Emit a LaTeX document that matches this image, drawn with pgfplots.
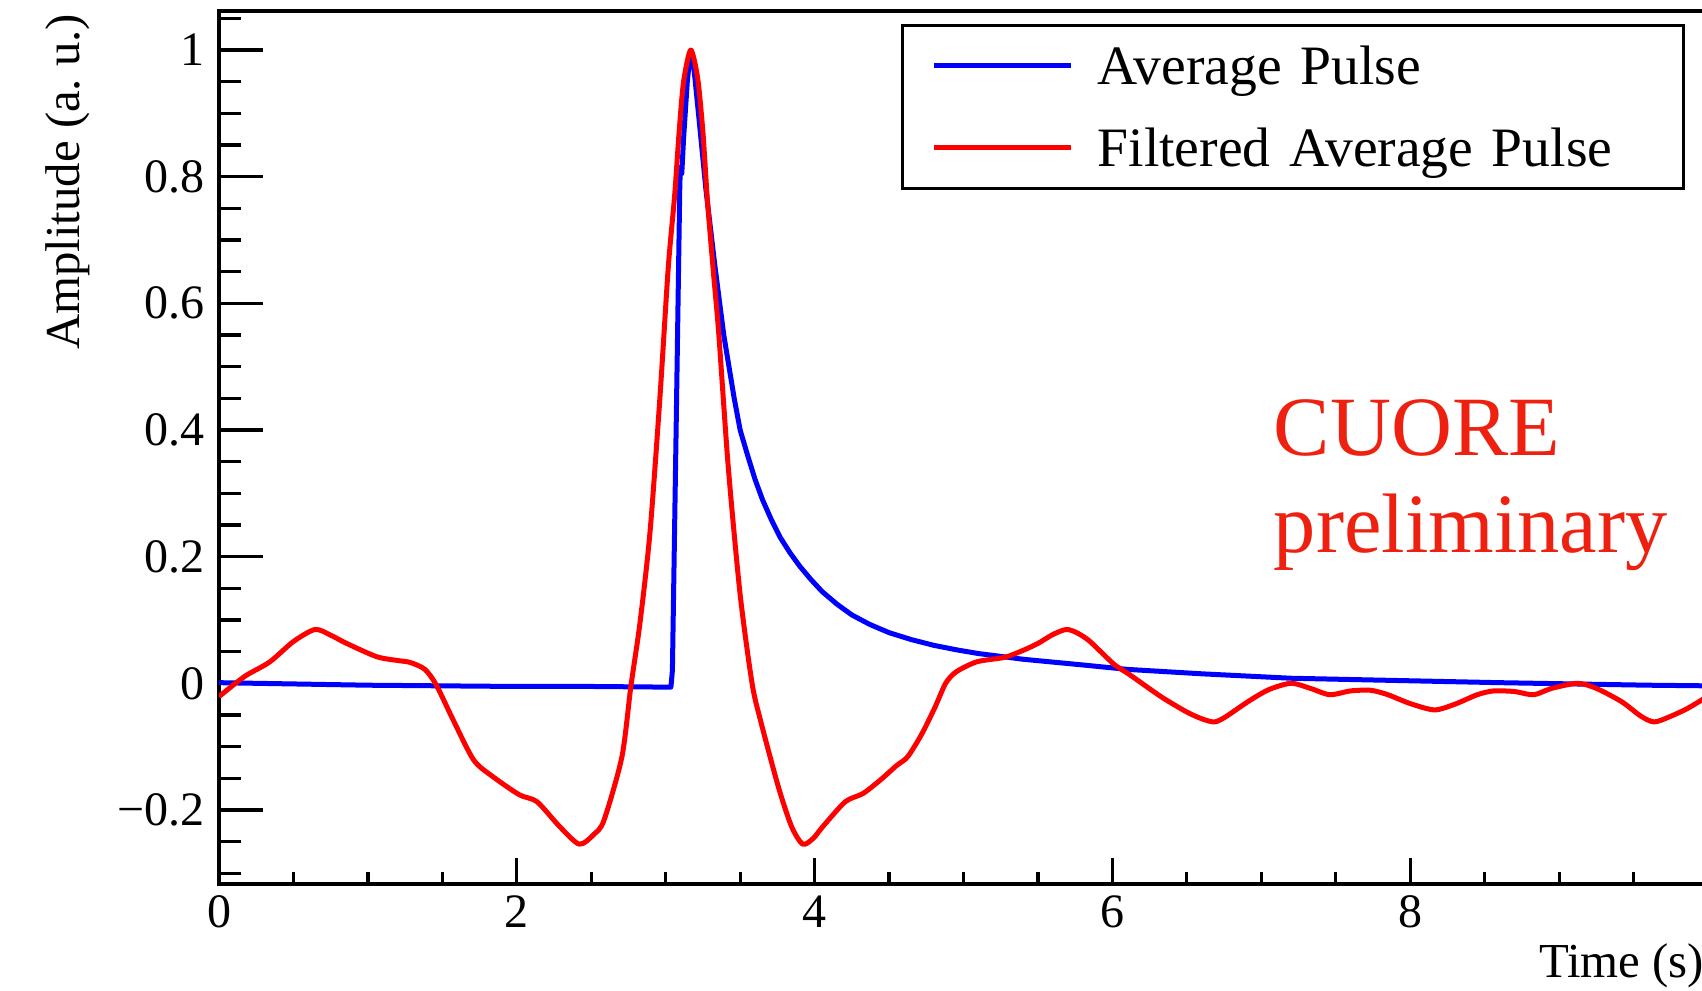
\documentclass[border=0pt]{standalone}
\usepackage{fontspec}
\setmainfont{Liberation Serif}
\usepackage{pgfplots}
\pgfplotsset{compat=1.18}
\frenchspacing

\definecolor{cuorered}{RGB}{238,33,17}

% shared ROOT-like frame, 1 px of the reference = 0.25bp
\pgfplotsset{
  rootframe/.style={
    scale only axis, width=372.25bp, height=218.125bp,
    xmin=0, xmax=10, ymin=-0.3161, ymax=1.0616,
    axis line style={line width=1bp},
    tick align=inside, tick pos=left,
    every tick/.style={black, line width=0.8bp},
    /pgf/number format/assume math mode=true,
    ticklabel style={font=\fontsize{12bp}{14bp}\selectfont},
    label style={font=\fontsize{12.2bp}{14bp}\selectfont},
  },
}

\begin{document}
\begin{tikzpicture}
  % twin axis: only carries the (shorter) x ticks and the x label
  \begin{axis}[rootframe,
      ytick=\empty,
      xtick={0,2,4,6,8},
      minor xtick={0.5,1,...,9.5},
      major tick length=6.25bp, minor tick length=3bp,
      xticklabel style={anchor=north, inner sep=0pt, yshift=-2.9bp},
      xlabel={Time (s)},
      xlabel style={at={(axis description cs:0.998,0)}, anchor=base east,
                    inner sep=0pt, yshift=-23.4bp},
    ]
  \end{axis}

  \begin{axis}[rootframe,
      xtick=\empty,
      ytick={-0.2,0,0.2,0.4,0.6,0.8,1},
      yticklabels={−0.2,0,0.2,0.4,0.6,0.8,1},
      minor ytick={-0.3,-0.25,...,1.05},
      major tick length=11bp, minor tick length=5.5bp,
      yticklabel style={anchor=east, inner sep=0pt, xshift=-3.5bp},
      ylabel={Amplitude (a. u.)},
      ylabel style={at={(axis description cs:-0.0934,0.9977)}, anchor=base east,
                    inner sep=0pt},
      every axis plot/.append style={line width=1.25bp, line join=round},
      legend cell align=left,
      legend image code/.code={\draw[#1, line width=1.25bp] (0bp,0bp) -- (34.2bp,0bp);},
      legend style={at={(axis description cs:0.458,0.9852)}, anchor=north west,
                    draw=black, line width=0.75bp, fill=white,
                    inner xsep=7.25bp, inner ysep=5.5bp, row sep=11.3bp,
                    font=\fontsize{13.9bp}{16bp}\selectfont,
                    nodes={inner sep=0pt, text width=139.3bp, align=left,
                           text height=9.2bp, text depth=0pt},
                    /tikz/every odd column/.append style={column sep=6.1bp}},
    ]
    \addplot[blue] coordinates {
      (0,0.001) (0.5,-0.001) (1.0,-0.003) (1.5,-0.004) (2.0,-0.005) (2.5,-0.005)
      (3.0,-0.006) (3.035,-0.006) (3.045,0.02) (3.07,0.40) (3.095,0.79) (3.100,0.815)
      (3.108,0.805) (3.12,0.86) (3.145,0.95) (3.165,0.995) (3.19,0.97) (3.22,0.90)
      (3.27,0.78) (3.33,0.66) (3.39,0.55) (3.46,0.45) (3.50,0.40) (3.55,0.36)
      (3.60,0.322) (3.65,0.29) (3.71,0.258) (3.77,0.23) (3.835,0.206) (3.90,0.185)
      (3.975,0.164) (4.05,0.145) (4.15,0.125) (4.25,0.108) (4.37,0.093) (4.5,0.080)
      (4.65,0.069) (4.8,0.060) (4.95,0.053) (5.1,0.047) (5.4,0.038) (5.8,0.029)
      (6.1,0.022) (6.6,0.015) (7.2,0.008) (8.0,0.004) (8.6,0.001) (9.1,-0.001)
      (9.6,-0.003) (10.0,-0.004)
    };
    \addlegendentry{Average Pulse}
    \addplot[red, smooth, tension=0.45] coordinates {
      (0.00,-0.021) (0.10,-0.002) (0.186,0.013) (0.342,0.034) (0.50,0.066) (0.645,0.085)
      (0.75,0.076) (0.857,0.063) (1.059,0.042) (1.20,0.036) (1.283,0.033) (1.383,0.022)
      (1.46,-0.003) (1.573,-0.058) (1.71,-0.121) (1.837,-0.147) (2.017,-0.176)
      (2.136,-0.187) (2.287,-0.226) (2.42,-0.254) (2.52,-0.238) (2.586,-0.216)
      (2.706,-0.116) (2.766,-0.005) (2.827,0.095) (2.894,0.237) (2.96,0.447)
      (3.017,0.656) (3.06,0.770) (3.09,0.870) (3.12,0.950) (3.168,1.0) (3.215,0.955)
      (3.25,0.870) (3.28,0.763) (3.32,0.650) (3.356,0.553) (3.42,0.342) (3.50,0.140)
      (3.58,0.0) (3.636,-0.058) (3.756,-0.163) (3.845,-0.226) (3.92,-0.254)
      (3.99,-0.245) (4.056,-0.226) (4.206,-0.187) (4.325,-0.174) (4.44,-0.153)
      (4.55,-0.130) (4.625,-0.116) (4.72,-0.08) (4.81,-0.037) (4.88,0.0) (4.95,0.018)
      (5.09,0.034) (5.276,0.041) (5.40,0.052) (5.50,0.063) (5.60,0.077) (5.69,0.085)
      (5.76,0.080) (5.84,0.068) (5.93,0.048) (6.016,0.029) (6.12,0.013) (6.326,-0.021)
      (6.497,-0.045) (6.60,-0.056) (6.686,-0.061) (6.76,-0.053) (6.91,-0.029)
      (7.05,-0.010) (7.20,0.0) (7.33,-0.008) (7.46,-0.018) (7.60,-0.012) (7.734,-0.011)
      (7.85,-0.018) (8.00,-0.032) (8.163,-0.042) (8.30,-0.033) (8.45,-0.018)
      (8.56,-0.012) (8.70,-0.013) (8.83,-0.018) (8.95,-0.008) (9.125,0.0) (9.25,-0.008)
      (9.42,-0.029) (9.55,-0.052) (9.64,-0.061) (9.75,-0.052) (9.86,-0.040)
      (9.96,-0.026) (10.0,-0.02)
    };
    \addlegendentry{Filtered Average Pulse}

    \node[anchor=base west, inner sep=0pt, text=cuorered,
          font=\fontsize{21.1bp}{24bp}\selectfont]
      at (axis description cs:0.7079,0.490) {CUORE};
    \node[anchor=base west, inner sep=0pt, text=cuorered,
          font=\fontsize{21.1bp}{24bp}\selectfont]
      at (axis description cs:0.7079,0.3788) {preliminary};
  \end{axis}

  \pgfresetboundingbox
  \useasboundingbox (-54.75bp,-26.875bp) rectangle (370.75bp,220.875bp);
\end{tikzpicture}
\end{document}
